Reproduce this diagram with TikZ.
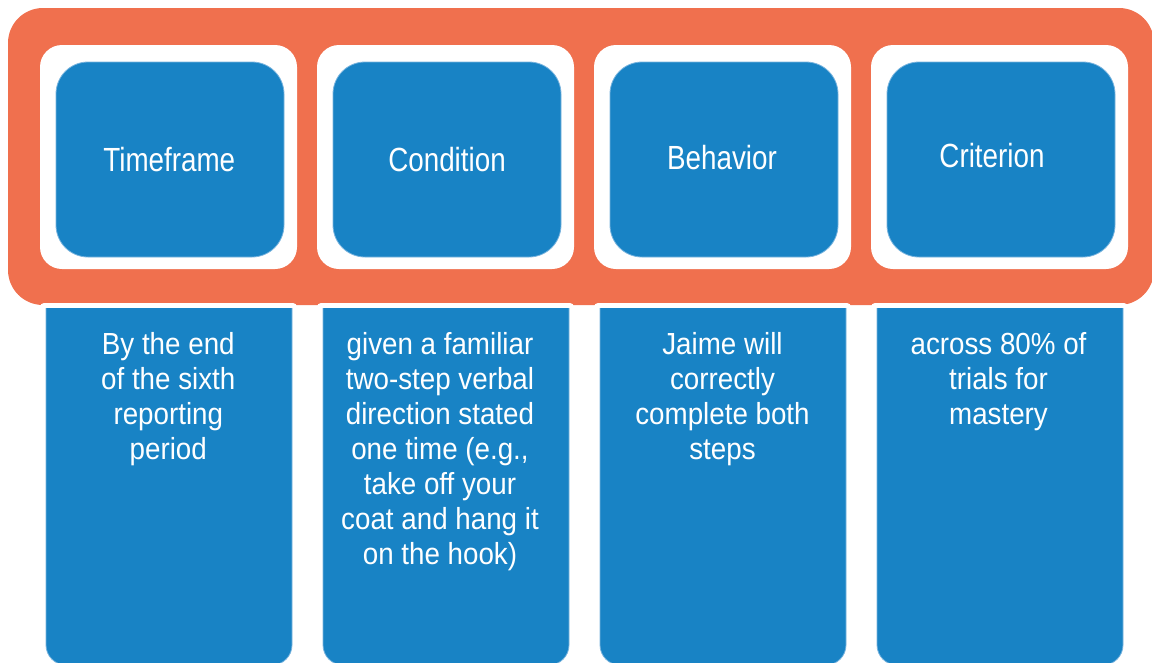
\documentclass[tikz,border=0pt]{standalone}
\usepackage{fontspec}
\newfontfamily\hdfont{Liberation Sans}[FakeStretch=0.83]
\newfontfamily\bdfont{Liberation Sans}[FakeStretch=0.91]
\definecolor{orng}{HTML}{F0704E}
\definecolor{blu}{HTML}{1883C5}
\definecolor{edgeblu}{HTML}{79B4DE}
\tikzset{
  frame/.style={fill=orng, rounded corners=35pt},
  whitebox/.style={fill=white, rounded corners=22pt},
  headbox/.style={fill=blu, draw=edgeblu, line width=0.8pt, rounded corners=32pt,
    minimum width=228pt, minimum height=195pt, inner sep=0pt},
  lowwhite/.style={fill=white, rounded corners=4pt},
  lowbox/.style={fill=blu, draw=edgeblu, line width=0.8pt, rounded corners=20pt},
  headtext/.style={text=white, anchor=base, inner sep=0pt, font=\hdfont\fontsize{33.5}{40}\selectfont},
  bodytext/.style={text=white, anchor=north, inner sep=0pt, align=center,
    font=\bdfont\fontsize{30.5}{35.1}\selectfont},
}
\newcommand{\topstrut}{\rule{0pt}{25pt}}
\begin{document}
\begin{tikzpicture}[x=1pt,y=-1pt]
\useasboundingbox (0,0) rectangle (1152,662);
% orange frame
\fill[frame] (8,8) rectangle (1154,305);
% header white boxes and blue boxes
\foreach \i in {0,1,2,3}{
  \fill[whitebox] ({40+277*\i},45) rectangle ({297+277*\i},269);
  \node[headbox] (h\i) at ({170+277*\i},159.5) {};
  \fill[lowwhite] ({40+277*\i},303) rectangle ({297+277*\i},680);
  \begin{scope}
    \clip ({40+277*\i},308.6) rectangle ({297+277*\i},700);
    \filldraw[lowbox] ({46+277*\i},280) rectangle ({292+277*\i},665);
  \end{scope}
}
% header texts
\node[headtext] (t0) at (169.3,171) {Timeframe};
\node[headtext] (t1) at (447,171) {Condition};
\node[headtext] (t2) at (722,169) {Behavior};
\node[headtext] (t3) at (992,167) {Criterion};
% body texts
\node[bodytext] (b0) at (168.3,329) {\topstrut By the end\\of the sixth\\reporting\\period};
\node[bodytext] (b1) at (440,329) {\topstrut given a familiar\\two-step verbal\\direction stated\\one time (e.g.,\\take off your\\coat and hang it\\on the hook)};
\node[bodytext] (b2) at (722.5,329) {\topstrut Jaime will\\correctly\\complete both\\steps};
\node[bodytext] (b3) at (998.5,329) {\topstrut across 80\% of\\trials for\\mastery};
\end{tikzpicture}
\end{document}
